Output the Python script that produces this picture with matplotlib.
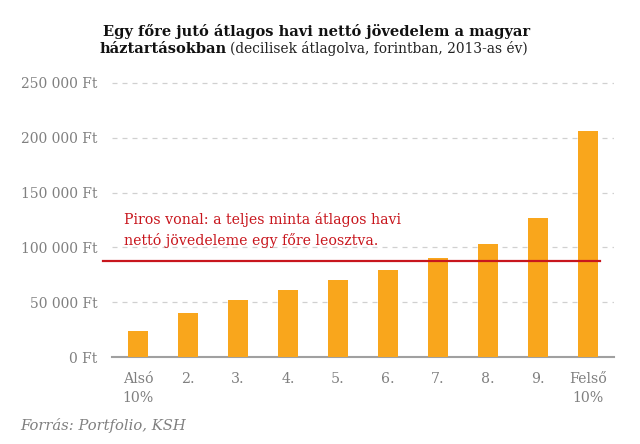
import matplotlib
matplotlib.use("Agg")
import matplotlib.pyplot as plt
from matplotlib.offsetbox import TextArea, HPacker, AnchoredOffsetbox

categories = ["Alsó\n10%", "2.", "3.", "4.", "5.", "6.", "7.", "8.", "9.", "Felső\n10%"]
values = [23700, 40000, 52300, 61200, 69800, 79400, 90200, 103000, 127000, 206000]
average = 87500
yticks = [0, 50000, 100000, 150000, 200000, 250000]
ytick_labels = ["0 Ft", "50 000 Ft", "100 000 Ft", "150 000 Ft", "200 000 Ft", "250 000 Ft"]

plt.rcParams['font.family'] = ['DejaVu Serif']

fig = plt.figure(figsize=(6.4, 4.44), dpi=100)
ax_bottom = 1 - 357 / 444
ax_top = 1 - 72 / 444
ax = fig.add_axes([112 / 640, ax_bottom, (614 - 112) / 640, ax_top - ax_bottom])

x = list(range(len(categories)))
ax.bar(x, values, width=0.4, color="#F9A61C", zorder=3)
ax.set_xlim(-0.52, 9.52)
ax.set_ylim(0, 260000)

ax.set_yticks(yticks)
ax.set_yticklabels(ytick_labels, color="#808080", fontsize=10)
ax.set_xticks(x)
ax.set_xticklabels(categories, color="#808080", fontsize=10.2, linespacing=1.45)
ax.tick_params(axis="x", length=0, pad=11)
ax.tick_params(axis="y", length=0, pad=10.5)

ax.grid(axis="y", color="#d0d0d0", linestyle=(0, (4, 4)), linewidth=0.9, zorder=0)
for s in ["top", "right", "left"]:
    ax.spines[s].set_visible(False)
ax.spines["bottom"].set_color("#a0a0a0")
ax.spines["bottom"].set_linewidth(1.5)

ax.plot([-0.7, 9.24], [average, average], color="#C8161D", linewidth=1.6, zorder=4, clip_on=False)
ax.text(-0.28, 99000, "Piros vonal: a teljes minta átlagos havi\nnettó jövedeleme egy főre leosztva.",
        color="#C8161D", fontsize=10.2, va="bottom", ha="left", linespacing=1.55)

fig.text(0.494, 0.93, "Egy főre jutó átlagos havi nettó jövedelem a magyar",
         ha="center", va="center", fontsize=10.5, fontweight="bold", color="#111111")
t1 = TextArea("háztartásokban", textprops=dict(fontsize=10.5, fontweight="bold", color="#111111"))
t2 = TextArea("(decilisek átlagolva, forintban, 2013-as év)", textprops=dict(fontsize=9.9, color="#222222"))
box = HPacker(children=[t1, t2], align="baseline", pad=0, sep=3)
anch = AnchoredOffsetbox(loc="center", child=box, pad=0, frameon=False,
                         bbox_to_anchor=(0.49, 0.89), bbox_transform=fig.transFigure, borderpad=0)
fig.add_artist(anch)

fig.text(20 / 640, 1 - 425 / 444, "Forrás: Portfolio, KSH", ha="left", va="center",
         fontsize=10.6, style="italic", color="#808080")

fig.savefig("out.png", dpi=100)
